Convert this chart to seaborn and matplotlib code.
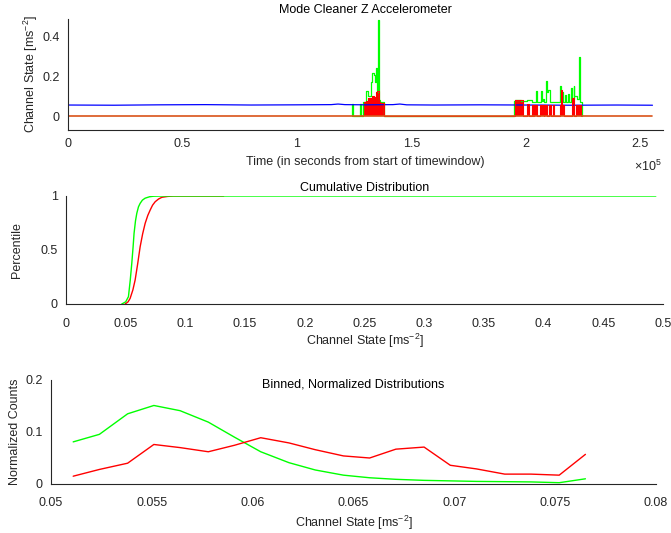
import numpy as np
import pandas as pd
import matplotlib
matplotlib.use("Agg")
import matplotlib.pyplot as plt
from matplotlib.ticker import FuncFormatter
import seaborn as sns

# Top panel: channel time series (time in seconds)
blue_t = [0, 20000, 40000, 60000, 80000, 100000, 115000, 118000, 121000, 130000,
          142000, 145000, 148000, 160000, 180000, 200000, 220000, 240000, 255400]
blue_v = [0.056, 0.055, 0.057, 0.058, 0.056, 0.057, 0.058, 0.061, 0.058, 0.057,
          0.058, 0.061, 0.057, 0.056, 0.057, 0.056, 0.055, 0.056, 0.055]

orange_t = [0, 255400]
orange_v = [0.0, 0.0]

green_t = [124000, 124300, 124600, 127600, 127900, 129000, 130400, 131000, 132200,
           132900, 133500, 134100, 134600, 135100, 135400, 135800, 136500, 138300,
           194900, 195500, 198100, 200700, 202900, 204500, 205100, 206600, 207100,
           207600, 208200, 208800, 209300, 209900, 210500, 214900, 215500, 216500,
           217100, 217700, 218500, 219100, 219700, 220300, 220900, 221300, 222600,
           223200, 223800, 224500]
green_v = [0.0, 0.06, 0.0, 0.06, 0.0, 0.07, 0.128, 0.10, 0.173,
           0.22, 0.21, 0.17, 0.245, 0.12, 0.484, 0.08, 0.07, 0.0,
           0.078, 0.083, 0.075, 0.08, 0.07, 0.128, 0.07, 0.125, 0.075,
           0.085, 0.07, 0.178, 0.12, 0.13, 0.07, 0.153, 0.12, 0.07,
           0.105, 0.07, 0.113, 0.07, 0.142, 0.09, 0.153, 0.10, 0.085,
           0.297, 0.07, 0.0]

red_t = [129200, 130400, 131000, 132900, 133600, 134500, 135100, 135800, 136500, 138000,
         195200, 198700, 200400, 201300, 202600, 203100, 203600, 205100, 206400, 207800,
         208000, 209200, 210400, 211200, 212000, 212500, 214900, 215500, 216000, 216600,
         220400, 220900, 222200, 224100]
red_v = [0.07, 0.075, 0.09, 0.10, 0.095, 0.12, 0.128, 0.07, 0.065, 0.0,
         0.083, 0.0, 0.06, 0.0, 0.058, 0.0, 0.058, 0.0, 0.058, 0.0,
         0.058, 0.0, 0.058, 0.0, 0.058, 0.0, 0.058, 0.133, 0.058, 0.0,
         0.09, 0.0, 0.058, 0.0]

# Middle panel: cumulative distributions
cdf_green_x = [0.0467, 0.0500, 0.0523, 0.0538, 0.0551, 0.0562, 0.0570, 0.0582, 0.0593,
               0.0607, 0.0621, 0.0640, 0.0663, 0.0700, 0.0733, 0.0800, 0.0900, 0.4940]
cdf_green_y = [0.0, 0.02, 0.068, 0.22, 0.377, 0.53, 0.654, 0.77, 0.84,
               0.90, 0.932, 0.962, 0.98, 0.993, 0.998, 1.0, 1.0, 1.0]
cdf_red_x = [0.0495, 0.0520, 0.0537, 0.0560, 0.0579, 0.0600, 0.0621, 0.0642, 0.0663,
             0.0685, 0.0705, 0.0725, 0.0747, 0.0775, 0.0803, 0.0850, 0.0900, 0.1320]
cdf_red_y = [0.0, 0.02, 0.052, 0.13, 0.222, 0.37, 0.53, 0.65, 0.747,
             0.82, 0.87, 0.915, 0.947, 0.972, 0.988, 0.996, 1.0, 1.0]

# Bottom panel: binned, normalized distributions
bin_x = [0.0511, 0.0524, 0.0538, 0.0551, 0.0564, 0.0578, 0.0591, 0.0604, 0.0618, 0.0631,
         0.0645, 0.0658, 0.0671, 0.0685, 0.0698, 0.0711, 0.0725, 0.0738, 0.0752, 0.0765]
bin_green = [0.081, 0.0955, 0.135, 0.151, 0.141, 0.119, 0.090, 0.062, 0.041, 0.027,
             0.017, 0.012, 0.009, 0.007, 0.006, 0.005, 0.0045, 0.004, 0.0025, 0.010]
bin_red = [0.015, 0.028, 0.040, 0.076, 0.070, 0.062, 0.0745, 0.089, 0.079, 0.066,
           0.054, 0.050, 0.067, 0.071, 0.036, 0.029, 0.019, 0.019, 0.017, 0.057]

GREEN = "#00ff00"
RED = "#ff0000"
BLUE = "#0000ff"
ORANGE = "#d95319"
AXC = "#262626"
FS = 9

sns.set_theme(style="white")
plt.rcParams["font.family"] = ["Liberation Sans", "DejaVu Sans"]
plt.rcParams["mathtext.fontset"] = "custom"
plt.rcParams["mathtext.rm"] = "Liberation Sans"
plt.rcParams["mathtext.it"] = "Liberation Sans:italic"
plt.rcParams["mathtext.bf"] = "Liberation Sans:bold"

fig = plt.figure(figsize=(6.71, 5.33), dpi=100)
ax1 = fig.add_axes([68 / 671, 1 - 130 / 533, 595 / 671, 111 / 533])
ax2 = fig.add_axes([66 / 671, 1 - 304 / 533, 597 / 671, 108 / 533])
ax3 = fig.add_axes([51 / 671, 1 - 484 / 533, 605 / 671, 104 / 533])

fmt_g = FuncFormatter(lambda v, p: f"{v:g}")


def style(ax, xpad):
    for s in ["top", "right"]:
        ax.spines[s].set_visible(False)
    for s in ["left", "bottom"]:
        ax.spines[s].set_color(AXC)
        ax.spines[s].set_linewidth(0.8)
    ax.tick_params(direction="in", length=3, width=0.8, color=AXC,
                   labelsize=FS, labelcolor=AXC, pad=6)
    ax.tick_params(axis="x", pad=xpad)
    ax.grid(False)


def place_labels(ax, xl_y, yl_x):
    ax.xaxis.set_label_coords(0.5, xl_y)
    ax.xaxis.label.set_va("center")
    ax.yaxis.set_label_coords(yl_x, 0.5)
    ax.yaxis.label.set_va("center")


# --- top
sns.lineplot(x=green_t, y=green_v, ax=ax1, color=GREEN, lw=0.9,
             estimator=None, sort=False, drawstyle="steps-post")
sns.lineplot(x=blue_t, y=blue_v, ax=ax1, color=BLUE, lw=0.9,
             estimator=None, sort=False)
ax1.fill_between(red_t, 0, red_v, step="post", color=RED, lw=0)
sns.lineplot(x=red_t, y=red_v, ax=ax1, color=RED, lw=0.8,
             estimator=None, sort=False, drawstyle="steps-post")
sns.lineplot(x=orange_t, y=orange_v, ax=ax1, color=ORANGE, lw=1.2,
             estimator=None, sort=False)
ax1.set_xlim(0, 260000)
ax1.set_ylim(-0.07, 0.49)
ax1.set_xticks([0, 50000, 100000, 150000, 200000, 250000])
ax1.xaxis.set_major_formatter(FuncFormatter(lambda v, p: f"{v / 1e5:g}"))
ax1.set_yticks([0, 0.2, 0.4])
ax1.yaxis.set_major_formatter(fmt_g)
style(ax1, 6)
ax1.set_xlabel("Time (in seconds from start of timewindow)", fontsize=FS, color=AXC)
ax1.set_ylabel("Channel State [ms$^{-2}$]", fontsize=FS, color=AXC)
place_labels(ax1, -0.29, -0.062)
ax1.text(0.5, 1.08, "Mode Cleaner Z Accelerometer", transform=ax1.transAxes,
         ha="center", va="center", fontsize=FS, color="black")
ax1.text(0.975, -0.33, "×10$^{5}$", transform=ax1.transAxes,
         ha="center", va="center", fontsize=FS, color=AXC)

# --- middle
sns.lineplot(x=cdf_red_x, y=cdf_red_y, ax=ax2, color=RED, lw=1.0,
             estimator=None, sort=False)
sns.lineplot(x=cdf_green_x, y=cdf_green_y, ax=ax2, color=GREEN, lw=1.0,
             estimator=None, sort=False)
ax2.set_xlim(0, 0.5)
ax2.set_ylim(0, 1)
ax2.set_xticks(np.arange(0, 0.501, 0.05))
ax2.xaxis.set_major_formatter(fmt_g)
ax2.set_yticks([0, 0.5, 1])
ax2.yaxis.set_major_formatter(fmt_g)
style(ax2, 10)
ax2.set_xlabel("Channel State [ms$^{-2}$]", fontsize=FS, color=AXC)
ax2.set_ylabel("Percentile", fontsize=FS, color=AXC)
place_labels(ax2, -0.34, -0.082)
ax2.text(0.5, 1.07, "Cumulative Distribution", transform=ax2.transAxes,
         ha="center", va="center", fontsize=FS, color="black")

# --- bottom
bins = pd.DataFrame({"x": bin_x, "green": bin_green, "red": bin_red})
sns.lineplot(data=bins, x="x", y="green", ax=ax3, color=GREEN, lw=1.0)
sns.lineplot(data=bins, x="x", y="red", ax=ax3, color=RED, lw=1.0)
ax3.set_xlim(0.05, 0.08)
ax3.set_ylim(0, 0.2)
ax3.set_xticks(np.arange(0.05, 0.0801, 0.005))
ax3.xaxis.set_major_formatter(FuncFormatter(lambda v, p: f"{round(v, 4):g}"))
ax3.set_yticks([0, 0.1, 0.2])
ax3.yaxis.set_major_formatter(fmt_g)
style(ax3, 9)
ax3.set_xlabel("Channel State [ms$^{-2}$]", fontsize=FS, color=AXC)
ax3.set_ylabel("Normalized Counts", fontsize=FS, color=AXC)
place_labels(ax3, -0.37, -0.06)
ax3.text(0.5, 0.96, "Binned, Normalized Distributions", transform=ax3.transAxes,
         ha="center", va="center", fontsize=FS, color="black")

fig.savefig("out.png", dpi=100)
